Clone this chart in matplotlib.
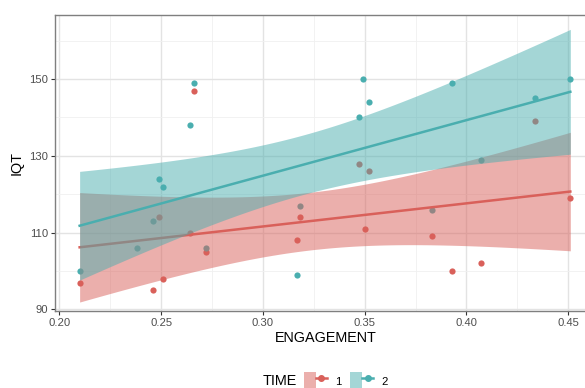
import matplotlib.pyplot as plt
import numpy as np
from matplotlib.patches import Patch
from matplotlib.lines import Line2D
from matplotlib.legend_handler import HandlerTuple

plt.rcParams['font.family'] = ['Liberation Sans', 'DejaVu Sans']

# TIME 1
eng_t1 = [0.210, 0.246, 0.249, 0.251, 0.264, 0.266, 0.272, 0.317, 0.318,
          0.347, 0.350, 0.352, 0.383, 0.393, 0.407, 0.4335, 0.451]
iqt_t1 = [97, 95, 114, 98, 110, 147, 105, 108, 114,
          128, 111, 126, 109, 100, 102, 139, 119]

# TIME 2
eng_t2 = [0.210, 0.238, 0.246, 0.249, 0.251, 0.264, 0.266, 0.272, 0.317,
          0.318, 0.347, 0.349, 0.352, 0.383, 0.393, 0.407, 0.4335, 0.451]
iqt_t2 = [100, 106, 113, 124, 122, 138, 149, 106, 99,
          117, 140, 150, 144, 116, 149, 129, 145, 150]

time_labels = ['1', '2']
colors = ['#D9605A', '#4AAEAF']

# t quantiles (0.975) by degrees of freedom
t_table = {14: 2.145, 15: 2.131, 16: 2.120, 17: 2.110, 18: 2.101}


def lm_band(x, y):
    x = np.asarray(x, float)
    y = np.asarray(y, float)
    n = len(x)
    b, a = np.polyfit(x, y, 1)
    resid = y - (a + b*x)
    s = np.sqrt(np.sum(resid**2)/(n-2))
    sxx = np.sum((x - x.mean())**2)
    xs = np.linspace(x.min(), x.max(), 80)
    fit = a + b*xs
    se = s*np.sqrt(1/n + (xs - x.mean())**2/sxx)
    t = t_table[n-2]
    return xs, fit, fit - t*se, fit + t*se


fig = plt.figure(figsize=(5.85, 3.88), dpi=100)
ax = fig.add_axes([55/585, 1-311/388, (597-55)/585, (311-14.5)/388])

groups = [(eng_t1, iqt_t1), (eng_t2, iqt_t2)]

for (x, y), c in zip(groups, colors):
    ax.scatter(x, y, s=20, color=c, linewidths=0, zorder=2)

for i, ((x, y), c) in enumerate(zip(groups, colors)):
    xs, fit, lo, hi = lm_band(x, y)
    ax.fill_between(xs, lo, hi, color=c, alpha=0.5, linewidth=0, zorder=3+2*i)
    ax.plot(xs, fit, color=c, lw=1.8, zorder=4+2*i)

ax.set_xlim(0.1979, 0.4641)
ax.set_ylim(89.6, 166.8)
ax.set_xticks([0.20, 0.25, 0.30, 0.35, 0.40, 0.45])
ax.set_xticks([0.225, 0.275, 0.325, 0.375, 0.425], minor=True)
ax.set_yticks([90, 110, 130, 150])
ax.set_yticks([100, 120, 140, 160], minor=True)
ax.grid(which='major', color='#E3E3E3', lw=1.0, zorder=0)
ax.grid(which='minor', color='#F0F0F0', lw=0.6, zorder=0)
ax.set_axisbelow(True)
for sp in ax.spines.values():
    sp.set_color('#7F7F7F')
    sp.set_linewidth(1.0)
ax.tick_params(which='major', length=3, color='#333333', labelsize=8.1,
               labelcolor='#4D4D4D', pad=2)
ax.tick_params(which='minor', length=0)
ax.set_xlabel('ENGAGEMENT', fontsize=10.4, labelpad=2)
ax.set_ylabel('IQT', fontsize=10.4, labelpad=4)

handles = [(Patch(facecolor=c, alpha=0.5, linewidth=0),
            Line2D([], [], color=c, lw=1.8, marker='o', markersize=4))
           for c in colors]
fig.text(297/585, 1-381/388, 'TIME', fontsize=10.4, ha='right', va='center')
fig.legend(handles, time_labels, handler_map={tuple: HandlerTuple(ndivide=None, pad=0)},
           loc='center left', bbox_to_anchor=(304/585, 1-381/388), ncol=2,
           frameon=False, fontsize=8.1, handlelength=2.05, handleheight=2.05,
           handletextpad=0.7, columnspacing=0.8, borderpad=0, borderaxespad=0)

fig.savefig('out.png', dpi=100)
